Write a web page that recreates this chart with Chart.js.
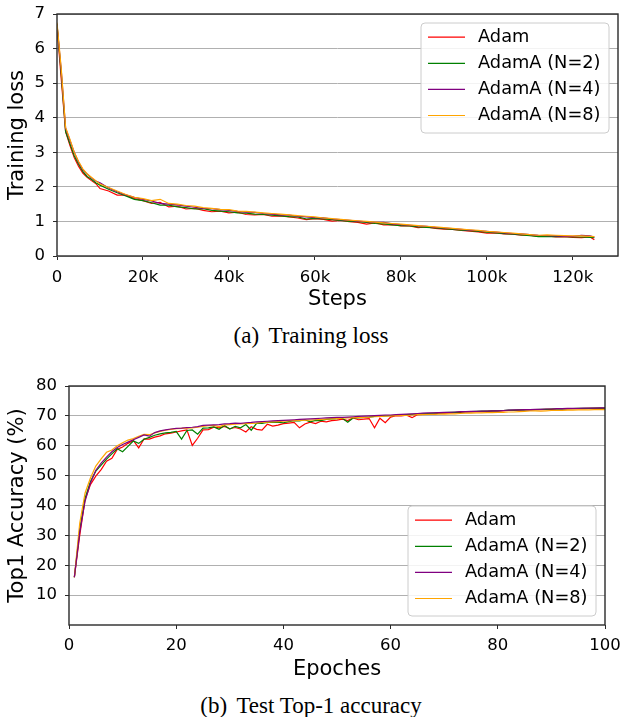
<!DOCTYPE html>
<html>
<head>
<meta charset="utf-8">
<script src="https://cdn.jsdelivr.net/npm/chart.js@4/dist/chart.umd.min.js"></script>
<style>
  html, body { margin: 0; padding: 0; background: #fff; }
  body { width: 622px; height: 717px; position: relative; overflow: hidden; }
  canvas { position: absolute; left: 0; }
  #lossCanvas { top: 0; }
  #accCanvas { top: 340px; }
  .caption {
    position: absolute; left: 0; width: 622px; text-align: center;
    font-family: "Liberation Serif", "Times New Roman", serif; font-size: 23px; color: #000;
    white-space: pre; line-height: 26px;
  }
  .caption .tag { margin-right: 4px; }
</style>
</head>
<body>
<canvas id="lossCanvas" width="622" height="320"></canvas>
<div class="caption" style="top:323px;"><span class="tag">(a)</span> Training loss</div>
<canvas id="accCanvas" width="622" height="350"></canvas>
<div class="caption" style="top:693px;"><span class="tag">(b)</span> Test Top-1 accuracy</div>
<script>
// ---------- series names and colours ----------
const seriesNames = ['Adam', 'AdamA (N=2)', 'AdamA (N=4)', 'AdamA (N=8)'];
const seriesColors = ['#ff0000', '#008000', '#800080', '#ffa500'];

// ---------- (a) training loss, steps in thousands ----------
const steps = [0, 1, 2, 3, 4, 5, 6, 7, 8, 9, 10, 12, 14, 16, 18, 20, 22, 24, 26, 28, 30, 32, 34, 36, 38,
  40, 42, 44, 46, 48, 50, 52, 54, 56, 58, 60, 62, 64, 66, 68, 70, 72, 74, 76, 78, 80, 82, 84, 86, 88,
  90, 92, 94, 96, 98, 100, 102, 104, 106, 108, 110, 112, 114, 116, 118, 120, 122, 124, 125];

const lossAdam = [6.65, 5.1, 3.6, 3.2, 2.85, 2.6, 2.4, 2.28, 2.18, 2.1, 1.95, 1.88, 1.76, 1.76, 1.66,
  1.6, 1.52, 1.55, 1.42, 1.44, 1.36, 1.38, 1.32, 1.28, 1.3, 1.25, 1.27, 1.2, 1.19, 1.2, 1.15, 1.16,
  1.13, 1.1, 1.05, 1.08, 1.06, 1.01, 1.03, 0.99, 0.97, 0.92, 0.96, 0.9, 0.91, 0.87, 0.87, 0.82, 0.84,
  0.8, 0.78, 0.77, 0.74, 0.72, 0.7, 0.66, 0.67, 0.64, 0.63, 0.6, 0.6, 0.57, 0.58, 0.55, 0.56, 0.54,
  0.53, 0.55, 0.47];
const lossN2 = [6.7, 5.25, 3.6, 3.25, 2.9, 2.66, 2.45, 2.3, 2.22, 2.12, 2.05, 1.93, 1.83, 1.74, 1.64,
  1.6, 1.54, 1.47, 1.47, 1.42, 1.4, 1.36, 1.37, 1.32, 1.3, 1.28, 1.25, 1.24, 1.21, 1.2, 1.18, 1.16,
  1.14, 1.13, 1.07, 1.09, 1.07, 1.05, 1.03, 1.0, 0.99, 0.97, 0.94, 0.93, 0.9, 0.88, 0.87, 0.84, 0.83,
  0.81, 0.79, 0.77, 0.75, 0.73, 0.71, 0.69, 0.67, 0.65, 0.63, 0.61, 0.59, 0.56, 0.56, 0.57, 0.56,
  0.55, 0.55, 0.54, 0.53];
const lossN4 = [6.7, 5.35, 3.7, 3.35, 3.0, 2.72, 2.5, 2.37, 2.26, 2.17, 2.12, 1.97, 1.86, 1.77, 1.7,
  1.64, 1.59, 1.52, 1.5, 1.48, 1.44, 1.41, 1.38, 1.37, 1.34, 1.32, 1.29, 1.27, 1.26, 1.23, 1.21, 1.19,
  1.18, 1.15, 1.13, 1.11, 1.1, 1.07, 1.05, 1.03, 1.01, 0.99, 0.97, 0.97, 0.93, 0.91, 0.89, 0.87, 0.86,
  0.83, 0.81, 0.79, 0.77, 0.75, 0.73, 0.71, 0.69, 0.67, 0.65, 0.64, 0.62, 0.6, 0.59, 0.58, 0.57,
  0.57, 0.6, 0.58, 0.55];
const lossN8 = [6.75, 5.4, 3.72, 3.38, 3.0, 2.74, 2.52, 2.38, 2.28, 2.18, 2.08, 1.98, 1.88, 1.78, 1.7,
  1.66, 1.6, 1.64, 1.52, 1.5, 1.46, 1.44, 1.4, 1.38, 1.35, 1.34, 1.3, 1.29, 1.27, 1.25, 1.23, 1.21,
  1.19, 1.17, 1.15, 1.13, 1.1, 1.08, 1.06, 1.04, 1.02, 1.0, 0.98, 0.96, 0.94, 0.92, 0.9, 0.88, 0.86,
  0.84, 0.82, 0.8, 0.78, 0.76, 0.74, 0.71, 0.7, 0.68, 0.66, 0.64, 0.62, 0.6, 0.61, 0.6, 0.59,
  0.58, 0.58, 0.57, 0.56];

const lossTicksX = [0, 20, 40, 60, 80, 100, 120];
const lossTickLabelsX = ['0', '20k', '40k', '60k', '80k', '100k', '120k'];
const lossTicksY = [0, 1, 2, 3, 4, 5, 6, 7];

// ---------- (b) test top-1 accuracy per epoch ----------
const epochs = [1, 2, 3, 4, 5, 6, 7, 8, 9, 10, 11, 12, 13, 14, 15, 16, 17, 18, 19, 20,
  21, 22, 23, 24, 25, 26, 27, 28, 29, 30, 31, 32, 33, 34, 35, 36, 37, 38, 39, 40,
  41, 42, 43, 44, 45, 46, 47, 48, 49, 50, 51, 52, 53, 54, 55, 56, 57, 58, 59, 60,
  61, 62, 63, 64, 65, 66, 67, 68, 69, 70, 71, 72, 73, 74, 75, 76, 77, 78, 79, 80,
  81, 82, 83, 84, 85, 86, 87, 88, 89, 90, 91, 92, 93, 94, 95, 96, 97, 98, 99, 100];

const accAdam = [16, 30, 42, 47, 49.8, 52, 54.8, 55.8, 58.8, 59.6,
  60.8, 61.8, 59.3, 62.3, 62.2, 62.9, 63.3, 64, 64.2, 64.6,
  65, 65.3, 60.1, 62.5, 65.3, 65.4, 66.2, 66, 66.5, 65.7,
  66.1, 65.6, 64.6, 66.4, 65.5, 65.2, 67.2, 66.6, 66.9, 67.4,
  67.6, 67.8, 66, 67.3, 67.9, 67.4, 68.2, 68, 68.4, 68.6,
  68.9, 68.4, 69.3, 68.7, 68.9, 69.1, 66, 69.2, 67.7, 69.6,
  70.1, 70, 70.2, 69.4, 70.4, 70.5, 70.6, 70.6, 70.9, 70.9,
  71, 71.1, 71.2, 71.3, 71.3, 71.4, 71.4, 71.5, 71.6, 71.6,
  71.7, 71.8, 71.8, 71.9, 72, 72, 72.1, 72.1, 72.2, 72.2,
  72.3, 72.3, 72.3, 72.4, 72.4, 72.4, 72.5, 72.5, 72.5, 72.5];
const accN2 = [16, 32, 42.5, 48, 51.5, 53.5, 55.5, 57.3, 59, 58,
  59.8, 61.6, 60.8, 62.2, 62.8, 63.5, 64, 64.3, 64.5, 64.8,
  62.2, 65.1, 65.3, 63.9, 65.9, 66, 66.3, 65.5, 66.8, 65.6,
  66.5, 66, 67.1, 65.2, 67.5, 67.5, 67.8, 67.9, 67.8, 67.7,
  68.1, 68.4, 68.3, 68.7, 68, 68.5, 68.4, 68.8, 69, 69.1,
  69.2, 67.9, 69.3, 69.3, 69.5, 69.6, 69.8, 69.9, 70, 70.1,
  70.2, 70.3, 70.4, 70.5, 70.6, 70.7, 70.8, 70.9, 71, 71.1,
  71.2, 71.2, 71.3, 71.4, 71.4, 71.5, 71.6, 71.6, 71.7, 71.7,
  71.8, 71.9, 71.9, 72, 72, 72.1, 72.1, 72.2, 72.2, 72.3,
  72.3, 72.3, 72.4, 72.4, 72.5, 72.5, 72.5, 72.6, 72.6, 72.6];
const accN4 = [16, 31, 41.5, 47.5, 51.8, 54.2, 56.2, 58, 59.4, 60.4,
  61.2, 62, 62.8, 63.6, 63.2, 64.4, 65, 65.3, 65.6, 65.8,
  65.9, 66.1, 66.2, 66.4, 66.8, 66.9, 67, 67.1, 67.3, 67.4,
  67.6, 67.5, 67.7, 67.8, 68, 68.1, 68.2, 68.3, 68.4, 68.5,
  68.6, 68.7, 68.8, 68.9, 69, 69.1, 69.2, 69.3, 69.4, 69.5,
  69.5, 69.6, 69.7, 69.8, 69.9, 70, 70.1, 70.2, 70.3, 70.3,
  70.4, 70.5, 70.6, 70.7, 70.8, 70.9, 71, 71, 71.1, 71.2,
  71.2, 71.3, 71.4, 71.4, 71.5, 71.5, 71.6, 71.6, 71.7, 71.7,
  71.8, 71.9, 72, 72, 72.1, 72.1, 72.2, 72.2, 72.3, 72.3,
  72.4, 72.4, 72.5, 72.5, 72.5, 72.6, 72.6, 72.6, 72.7, 72.7];
const accN8 = [16, 34, 44.2, 49.2, 53.2, 55.6, 57.8, 58.6, 60, 61,
  61.9, 62.4, 63.2, 63.8, 63.7, 64.3, 64.8, 65.2, 65.5, 65.7,
  65.8, 65.9, 66, 66.2, 66.5, 66.7, 66.8, 66.4, 67, 67.1,
  67.2, 67.3, 67.4, 67.5, 67.6, 67.8, 67.9, 68, 68.1, 68.2,
  68.3, 68.4, 68.5, 68.6, 68.6, 68.7, 68.8, 68.9, 69, 69.1,
  69.2, 69.3, 69.4, 69.4, 69.5, 69.6, 69.7, 69.8, 69.9, 70,
  70.1, 70.2, 70.2, 70.3, 70.4, 70.4, 70.5, 70.5, 70.6, 70.6,
  70.7, 70.7, 70.8, 70.9, 70.9, 71, 71, 71.1, 71.1, 71.2,
  71.2, 71.3, 71.3, 71.4, 71.5, 71.7, 71.7, 71.6, 71.7, 71.8,
  71.8, 71.8, 71.9, 71.9, 72, 72, 72, 72.1, 72.1, 72.1];

const accTicksX = [0, 20, 40, 60, 80, 100];
const accTicksY = [10, 20, 30, 40, 50, 60, 70, 80];

// ---------- shared styling ----------
Chart.defaults.font.family = '"DejaVu Sans", sans-serif';
Chart.defaults.color = '#000';

const TICK_FONT = { size: 16.5 };
const TITLE_FONT = { size: 21 };
const GRID_COLOR = '#b0b0b0';
const SPINE_COLOR = '#2a2a2a';

// Four-sided axes box drawn around the plotting area
const framePlugin = {
  id: 'frame',
  afterDatasetsDraw(chart, args, opts) {
    const { ctx, chartArea: a } = chart;
    ctx.save();
    ctx.strokeStyle = opts.color;
    ctx.lineWidth = opts.width;
    ctx.strokeRect(a.left, a.top, a.right - a.left, a.bottom - a.top);
    ctx.restore();
  }
};

// Framed legend placed inside the plotting area
const boxLegendPlugin = {
  id: 'boxLegend',
  afterDraw(chart, args, o) {
    const { ctx, chartArea: a } = chart;
    const x0 = a.right - o.inset - o.width;
    const y0 = o.corner === 'upper' ? a.top + o.inset : a.bottom - o.inset - o.height;
    ctx.save();
    ctx.beginPath();
    if (ctx.roundRect) ctx.roundRect(x0, y0, o.width, o.height, 4);
    else ctx.rect(x0, y0, o.width, o.height);
    ctx.fillStyle = 'rgba(255,255,255,0.85)';
    ctx.fill();
    ctx.strokeStyle = '#cccccc';
    ctx.lineWidth = 1;
    ctx.stroke();
    ctx.font = o.fontSize + 'px "DejaVu Sans", sans-serif';
    ctx.textBaseline = 'middle';
    ctx.textAlign = 'left';
    chart.data.datasets.forEach((ds, i) => {
      const y = y0 + o.firstRow + i * o.rowGap;
      ctx.strokeStyle = ds.borderColor;
      ctx.lineWidth = ds.borderWidth;
      ctx.beginPath();
      ctx.moveTo(x0 + o.lineStart, y);
      ctx.lineTo(x0 + o.lineStart + o.lineLength, y);
      ctx.stroke();
      ctx.fillStyle = '#000';
      ctx.fillText(ds.label, x0 + o.textStart, y);
    });
    ctx.restore();
  }
};

function lineDataset(label, color, xs, ys, order) {
  return {
    label,
    data: xs.map((x, i) => ({ x, y: ys[i] })),
    borderColor: color,
    backgroundColor: color,
    borderWidth: 1.2,
    pointRadius: 0,
    tension: 0,
    fill: false,
    order
  };
}

function axisOptions(cfg) {
  return {
    type: 'linear',
    min: cfg.min,
    max: cfg.max,
    afterBuildTicks: (scale) => { scale.ticks = cfg.ticks.map(v => ({ value: v })); },
    afterFit: (scale) => {
      // the layout padding alone decides where the plotting area ends
      scale.paddingLeft = 0;
      scale.paddingRight = 0;
      scale.paddingTop = 0;
      scale.paddingBottom = 0;
      if (cfg.width !== undefined) scale.width = cfg.width;
      if (cfg.height !== undefined) scale.height = cfg.height;
    },
    border: { display: false },
    grid: {
      drawOnChartArea: cfg.gridOnArea,
      color: GRID_COLOR,
      lineWidth: 1,
      drawTicks: true,
      tickLength: 4,
      tickColor: SPINE_COLOR,
      tickWidth: 1
    },
    ticks: {
      font: TICK_FONT,
      color: '#000',
      padding: cfg.tickPadding,
      maxRotation: 0,
      autoSkip: false,
      callback: cfg.format
    },
    title: {
      display: true,
      text: cfg.title,
      font: TITLE_FONT,
      color: '#000',
      padding: cfg.titlePadding
    }
  };
}

const legendOpts = {
  width: 188, height: 110, inset: 9,
  firstRow: 14.2, rowGap: 26.1,
  lineStart: 7, lineLength: 37, textStart: 57, fontSize: 17.8
};

// ---------- (a) Training loss ----------
new Chart(document.getElementById('lossCanvas'), {
  type: 'line',
  data: {
    datasets: [
      lineDataset(seriesNames[0], seriesColors[0], steps, lossAdam, 3),
      lineDataset(seriesNames[1], seriesColors[1], steps, lossN2, 2),
      lineDataset(seriesNames[2], seriesColors[2], steps, lossN4, 1),
      lineDataset(seriesNames[3], seriesColors[3], steps, lossN8, 0)
    ]
  },
  options: {
    responsive: false,
    animation: false,
    devicePixelRatio: 1,
    layout: { padding: { left: 0, right: 4, top: 14, bottom: 0 } },
    plugins: {
      legend: { display: false },
      tooltip: { enabled: false },
      frame: { color: SPINE_COLOR, width: 1.4 },
      boxLegend: Object.assign({ corner: 'upper' }, legendOpts)
    },
    scales: {
      x: axisOptions({
        min: 0, max: 130.5, ticks: lossTicksX, height: 64, gridOnArea: false,
        tickPadding: 8, title: 'Steps', titlePadding: { top: 0, bottom: 8 },
        format: (v) => lossTickLabelsX[lossTicksX.indexOf(v)]
      }),
      y: axisOptions({
        min: 0, max: 7, ticks: lossTicksY, width: 57, gridOnArea: true,
        tickPadding: 8, title: 'Training loss', titlePadding: { top: 5, bottom: 0 },
        format: (v) => String(v)
      })
    }
  },
  plugins: [framePlugin, boxLegendPlugin]
});

// ---------- (b) Test Top-1 accuracy ----------
new Chart(document.getElementById('accCanvas'), {
  type: 'line',
  data: {
    datasets: [
      lineDataset(seriesNames[0], seriesColors[0], epochs, accAdam, 3),
      lineDataset(seriesNames[1], seriesColors[1], epochs, accN2, 2),
      lineDataset(seriesNames[2], seriesColors[2], epochs, accN4, 0),
      lineDataset(seriesNames[3], seriesColors[3], epochs, accN8, 1)
    ]
  },
  options: {
    responsive: false,
    animation: false,
    devicePixelRatio: 1,
    layout: { padding: { left: 0, right: 17, top: 46, bottom: 0 } },
    plugins: {
      legend: { display: false },
      tooltip: { enabled: false },
      frame: { color: SPINE_COLOR, width: 1.4 },
      boxLegend: Object.assign({ corner: 'lower' }, legendOpts)
    },
    scales: {
      x: axisOptions({
        min: 0, max: 100, ticks: accTicksX, height: 65, gridOnArea: false,
        tickPadding: 7, title: 'Epoches', titlePadding: { top: 0, bottom: 8 },
        format: (v) => String(v)
      }),
      y: axisOptions({
        min: 0, max: 80, ticks: accTicksY, width: 69, gridOnArea: true,
        tickPadding: 8, title: 'Top1 Accuracy (%)', titlePadding: { top: 5, bottom: 0 },
        format: (v) => String(v)
      })
    }
  },
  plugins: [framePlugin, boxLegendPlugin]
});
</script>
</body>
</html>
